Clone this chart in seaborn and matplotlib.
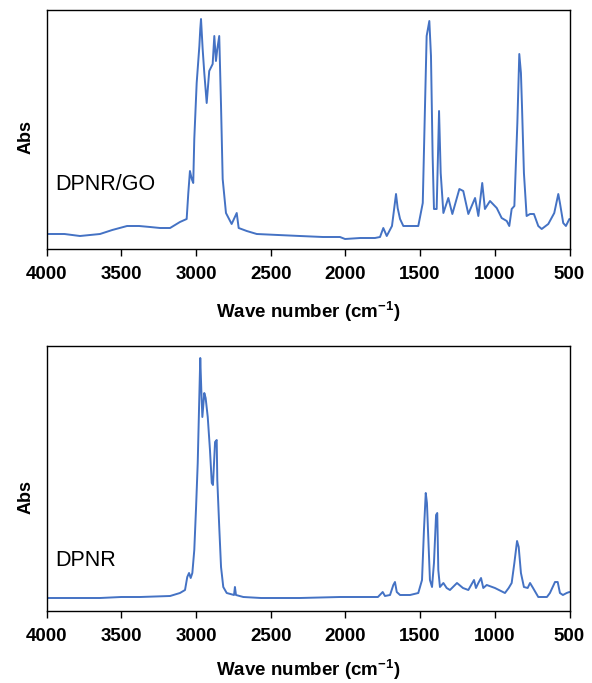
import matplotlib
matplotlib.use("Agg")
import matplotlib.pyplot as plt
import seaborn as sns
import pandas as pd

# DPNR/GO spectrum (wavenumber cm^-1, absorbance a.u.)
go_wn = [4000, 3880, 3776, 3642, 3560, 3461, 3380, 3307, 3240, 3173, 3107, 3062, 3051,
         3040, 3028, 3018, 3011,
         2995, 2977, 2971, 2966, 2955, 2944, 2928, 2911, 2888, 2877, 2866, 2857, 2844,
         2832, 2821, 2799, 2761, 2727, 2714, 2660, 2593, 2450, 2304, 2150, 2036, 2002,
         1900, 1802, 1768,
         1746, 1723, 1688, 1661, 1650, 1634, 1612, 1567, 1512, 1482, 1467, 1456, 1438,
         1427, 1416, 1407, 1389, 1373, 1362, 1344, 1311, 1284, 1237, 1211, 1177, 1132,
         1110, 1084, 1066, 1032, 987, 954, 920, 903, 887, 869, 849, 836, 825, 818, 805,
         787, 764, 738, 709, 686, 642, 602, 575, 564, 542, 524, 501]
go_abs = [0.15, 0.15, 0.13, 0.15, 0.19, 0.23, 0.23, 0.22, 0.21, 0.21, 0.27, 0.30, 0.56,
          0.78, 0.70, 0.66, 1.10,
          1.66, 2.03, 2.20, 2.30, 2.00, 1.76, 1.46, 1.78, 1.85, 2.13, 1.88, 2.00, 2.13,
          1.43, 0.70, 0.36, 0.25, 0.36, 0.21, 0.18, 0.15, 0.14, 0.13, 0.12, 0.12, 0.10,
          0.11, 0.11, 0.12,
          0.21, 0.13, 0.23, 0.55, 0.41, 0.30, 0.23, 0.23, 0.23, 0.46, 1.43, 2.13, 2.28,
          1.93, 0.93, 0.40, 0.40, 1.38, 0.76, 0.36, 0.51, 0.35, 0.60, 0.58, 0.35, 0.51,
          0.33, 0.66, 0.40, 0.48, 0.41, 0.31, 0.28, 0.23, 0.40, 0.43, 1.26, 1.95, 1.76,
          1.43, 0.76, 0.33, 0.35, 0.35, 0.23, 0.20, 0.25, 0.36, 0.55, 0.46, 0.26, 0.23,
          0.30]

# DPNR spectrum
nr_wn = [4000, 3800, 3642, 3500, 3374, 3173, 3107, 3073, 3058, 3046, 3035, 3024, 3011,
         2999, 2988,
         2979, 2971, 2964, 2957, 2944, 2935, 2921, 2906, 2894, 2886, 2872, 2861, 2857,
         2844, 2832, 2817, 2794, 2745, 2739, 2732, 2683, 2565, 2304, 2036, 1782, 1750,
         1735, 1701, 1679, 1668, 1656, 1634, 1567, 1512, 1487, 1474, 1462, 1454, 1447,
         1434, 1420, 1407, 1393, 1385, 1378, 1367, 1344, 1322, 1300, 1253, 1213, 1177,
         1139, 1126, 1110, 1092, 1077, 1054, 999, 932, 907, 887, 869, 851, 840, 825, 805,
         780, 764, 744, 709, 651, 631, 597, 579, 564, 544, 519, 501]
nr_abs = [0.13, 0.13, 0.13, 0.14, 0.14, 0.15, 0.18, 0.21, 0.34, 0.38, 0.33, 0.38, 0.61,
          1.04, 1.48,
          2.04, 2.53, 2.21, 1.94, 2.18, 2.13, 1.94, 1.61, 1.28, 1.26, 1.69, 1.71, 1.31,
          0.84, 0.44, 0.24, 0.18, 0.16, 0.24, 0.16, 0.14, 0.13, 0.13, 0.14, 0.14, 0.19,
          0.15, 0.16, 0.26, 0.29, 0.19, 0.16, 0.16, 0.18, 0.31, 0.81, 1.18, 1.08, 0.81,
          0.31, 0.24, 0.48, 0.96, 0.98, 0.41, 0.24, 0.28, 0.23, 0.21, 0.28, 0.23, 0.21,
          0.31, 0.23, 0.28, 0.33, 0.23, 0.26, 0.23, 0.18, 0.23, 0.28, 0.48, 0.70, 0.64,
          0.38, 0.24, 0.23, 0.28, 0.23, 0.14, 0.14, 0.18, 0.29, 0.29, 0.18, 0.16, 0.18,
          0.19]

sample_labels = ["DPNR/GO", "DPNR"]
x_ticks = [4000, 3500, 3000, 2500, 2000, 1500, 1000, 500]

sns.set_theme(style="white")
plt.rcParams["font.family"] = ["Liberation Sans", "DejaVu Sans"]
plt.rcParams["text.color"] = "black"
plt.rcParams["axes.labelcolor"] = "black"
plt.rcParams["xtick.color"] = "black"

W, H = 592, 683
fig = plt.figure(figsize=(W / 100, H / 100), dpi=100)

L, R = 46.5, 569.5
panels = [
    dict(top=10, bot=249, wn=go_wn, ab=go_abs, ymax=2.39, label=sample_labels[0],
         lab_y=0.268, abs_y=0.47, lpad=12.0),
    dict(top=346, bot=611, wn=nr_wn, ab=nr_abs, ymax=2.65, label=sample_labels[1],
         lab_y=0.192, abs_y=0.43, lpad=8.8),
]

line_color = "#4472C4"
for p in panels:
    ax = fig.add_axes([L / W, 1 - p["bot"] / H, (R - L) / W, (p["bot"] - p["top"]) / H])
    df = pd.DataFrame({"wn": p["wn"], "abs": p["ab"]})
    sns.lineplot(data=df, x="wn", y="abs", ax=ax, color=line_color, linewidth=1.4,
                 estimator=None, sort=False)
    ax.set_xlim(4000, 500)
    ax.set_ylim(0, p["ymax"])
    ax.set_xticks(x_ticks)
    ax.set_xticklabels([str(t) for t in x_ticks], fontsize=13.5, fontweight="bold",
                       color="black")
    ax.set_yticks([])
    ax.tick_params(axis="x", direction="out", length=5, width=1, color="black",
                   bottom=True, top=False, pad=7)
    for s in ax.spines.values():
        s.set_color("black")
        s.set_linewidth(1.0)
    ax.set_xlabel("Wave number (cm$^{\\mathregular{-1}}$)", fontsize=13.5,
                  fontweight="bold", labelpad=p["lpad"], color="black")
    ax.set_ylabel("Abs", fontsize=13, fontweight="bold", color="black")
    ax.yaxis.set_label_coords(-0.022, p["abs_y"])
    ax.text(0.016, p["lab_y"], p["label"], transform=ax.transAxes, fontsize=15.5,
            ha="left", va="center", color="black")

fig.savefig("out.png", dpi=100)
